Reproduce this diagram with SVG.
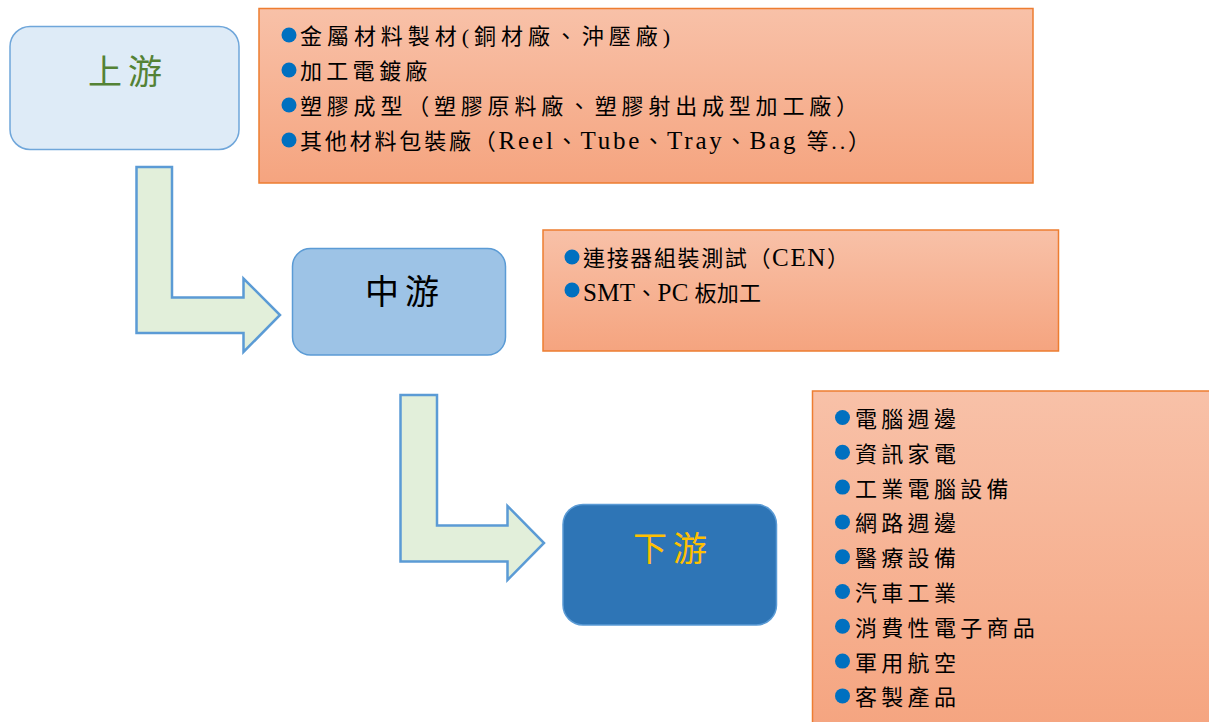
<svg xmlns="http://www.w3.org/2000/svg" width="1209" height="722" viewBox="0 0 1209 722">
<style>
.t{font-family:"Liberation Serif","Noto Sans CJK TC",serif;font-size:22px;fill:#000;letter-spacing:4.3px}
.tl{letter-spacing:0}
.lat{font-size:25px}
.h{font-family:"Noto Sans CJK TC",sans-serif;font-size:34px;letter-spacing:6px;text-anchor:middle}
.ob{fill:url(#og);stroke:#ed7d31;stroke-width:1.5}
.arr{fill:#e2efda;stroke:#5b9bd5;stroke-width:2.5;stroke-linejoin:miter}
.b{fill:#0070c0}
</style>
<defs>
<linearGradient id="og" x1="0" y1="0" x2="0" y2="1">
<stop offset="0" stop-color="#f8c1a8"/>
<stop offset="1" stop-color="#f5a47f"/>
</linearGradient>
</defs>
<g id="connectors">
<path class="arr" d="M136.5,167 H172 V297.5 H243.5 V278.5 L280,315 L243.5,352 V333 H136.5 Z"/>
<path class="arr" d="M400.5,395 H437 V525.5 H507.5 V506 L544,543 L507.5,580 V561.5 H400.5 Z"/>
</g>
<g id="upstream">
<rect x="10" y="26.5" width="229" height="123" rx="20" fill="#deebf7" stroke="#6fa6da" stroke-width="1.5"/>
<text class="h" x="128" y="84" fill="#548235">上游</text>
</g>
<g id="upstream-list">
<rect class="ob" x="259" y="8.5" width="774" height="174.5"/>
<circle class="b" cx="289" cy="35" r="7.5"/>
<circle class="b" cx="289" cy="70" r="7.5"/>
<circle class="b" cx="289" cy="105" r="7.5"/>
<circle class="b" cx="289" cy="140" r="7.5"/>
<text class="t tl" x="300" y="44" textLength="370" lengthAdjust="spacing">金屬材料製材(銅材廠、沖壓廠)</text>
<text class="t" x="300" y="79">加工電鍍廠</text>
<text class="t tl" x="300" y="114" textLength="558" lengthAdjust="spacing">塑膠成型（塑膠原料廠、塑膠射出成型加工廠）</text>
<text class="t tl" x="300" y="149" textLength="570" lengthAdjust="spacing">其他材料包裝廠（<tspan class="lat">Reel</tspan>、<tspan class="lat">Tube</tspan>、<tspan class="lat">Tray</tspan>、<tspan class="lat">Bag</tspan> 等..）</text>
</g>
<g id="midstream">
<rect x="292.5" y="248.5" width="213" height="106.5" rx="18" fill="#9dc3e6" stroke="#5b9bd5" stroke-width="1.5"/>
<text class="h" x="405" y="304" fill="#000">中游</text>
</g>
<g id="midstream-list">
<rect class="ob" x="543" y="230" width="515.5" height="121"/>
<circle class="b" cx="572" cy="257" r="7.5"/>
<circle class="b" cx="572" cy="290" r="7.5"/>
<text class="t tl" x="583" y="266" textLength="266" lengthAdjust="spacing">連接器組裝測試（<tspan class="lat">CEN</tspan>）</text>
<text class="t tl" x="583" y="301" textLength="178" lengthAdjust="spacing"><tspan class="lat">SMT</tspan>、<tspan class="lat">PC</tspan> 板加工</text>
</g>
<g id="downstream">
<rect x="563" y="504.5" width="213.5" height="120.5" rx="20" fill="#2e75b6" stroke="#5b9bd5" stroke-width="1.5"/>
<text class="h" x="673" y="561" fill="#ffc000">下游</text>
</g>
<g id="downstream-list">
<rect class="ob" x="812.5" y="391" width="410" height="345"/>
<g class="b">
<circle cx="842.5" cy="417.5" r="7.5"/>
<circle cx="842.5" cy="452.3" r="7.5"/>
<circle cx="842.5" cy="487.1" r="7.5"/>
<circle cx="842.5" cy="521.9" r="7.5"/>
<circle cx="842.5" cy="556.7" r="7.5"/>
<circle cx="842.5" cy="591.5" r="7.5"/>
<circle cx="842.5" cy="626.3" r="7.5"/>
<circle cx="842.5" cy="661.1" r="7.5"/>
<circle cx="842.5" cy="695.9" r="7.5"/>
</g>
<text class="t" x="855" y="427">電腦週邊</text>
<text class="t" x="855" y="461.8">資訊家電</text>
<text class="t" x="855" y="496.6">工業電腦設備</text>
<text class="t" x="855" y="531.4">網路週邊</text>
<text class="t" x="855" y="566.2">醫療設備</text>
<text class="t" x="855" y="601">汽車工業</text>
<text class="t" x="855" y="635.8">消費性電子商品</text>
<text class="t" x="855" y="670.6">軍用航空</text>
<text class="t" x="855" y="705.4">客製產品</text>
</g>
</svg>
